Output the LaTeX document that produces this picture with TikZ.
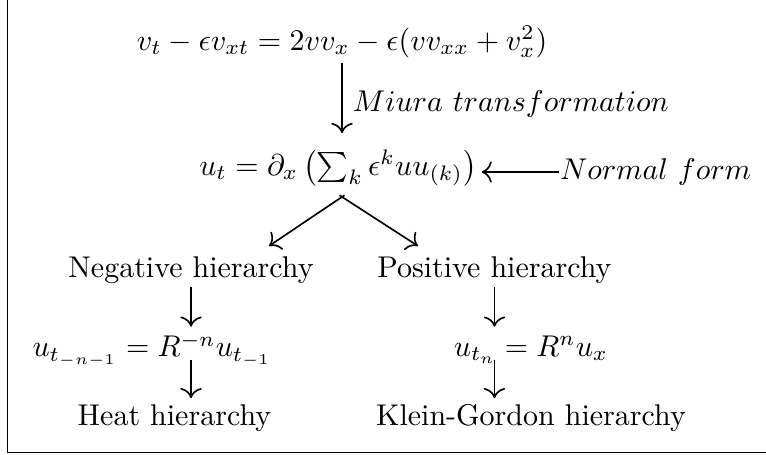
\documentclass[tikz,border=0pt]{standalone}
\usepackage{amsmath,amssymb}
\usetikzlibrary{calc,cd}

\begin{document}
\begin{tikzpicture}[>=cm to, line width=0.55pt]

\useasboundingbox (0,0) rectangle (8.974,5.330);
% frame: only the left and bottom edges are in view
\draw (0.088,5.330) -- (0.088,0.030) -- (8.974,0.030);

%---------------- top: equation and its normal form -----------------
\node (veq) at (4.007,4.838) {$v_t - \epsilon v_{xt} = 2vv_x - \epsilon(vv_{xx} + v_x^2)$};
\node (ueq) at (3.960,3.362) {$u_t = \partial_x\left(\sum_k \epsilon^k u u_{(k)}\right)$};
\draw[->, shorten <=-2pt, shorten >=2pt] (veq.south) -- (veq.south |- ueq.north)
      node[midway, right] {$Miura\ transformation$};
\node[anchor=east, inner sep=0pt] (normal) at (8.810,3.315) {$Normal\ form$};
\draw[->, shorten >=-2pt] (normal.west) -- (ueq.east |- normal.west);

%---------------- split into the two hierarchies -----------------
\coordinate (negtip) at (3.151,2.448);
\coordinate (postip) at (4.897,2.448);
\draw[->, shorten <=-1pt] (veq.south |- ueq.south) -- (negtip);
\draw[->, shorten <=-1pt] (veq.south |- ueq.south) -- (postip);

\node (neg) at (2.238,2.167) {Negative hierarchy};
\node (pos) at (5.793,2.167) {Positive hierarchy};

% negative side
\node (negeq) at (1.781,1.230) {$u_{t_{-n-1}} = R^{-n}u_{t_{-1}}$};
\node (heat) at (2.044,0.433) {Heat hierarchy};
\draw[->, shorten <=-2.5pt, shorten >=-1.5pt] (neg.south) -- (neg.south |- negeq.north);
\draw[->, shorten <=-6pt, shorten >=-1.5pt] (neg.south |- negeq.south) -- (neg.south |- heat.north);

% positive side
\node (poseq) at (6.221,1.230) {$u_{t_n} = R^n u_x$};
\node (kg) at (6.221,0.433) {Klein-Gordon hierarchy};
\draw[->, shorten <=-2.5pt, shorten >=-1.5pt] (pos.south) -- (pos.south |- negeq.north);
\draw[->, shorten <=-6pt, shorten >=-1.5pt] (pos.south |- negeq.south) -- (pos.south |- heat.north);

\end{tikzpicture}
\end{document}
